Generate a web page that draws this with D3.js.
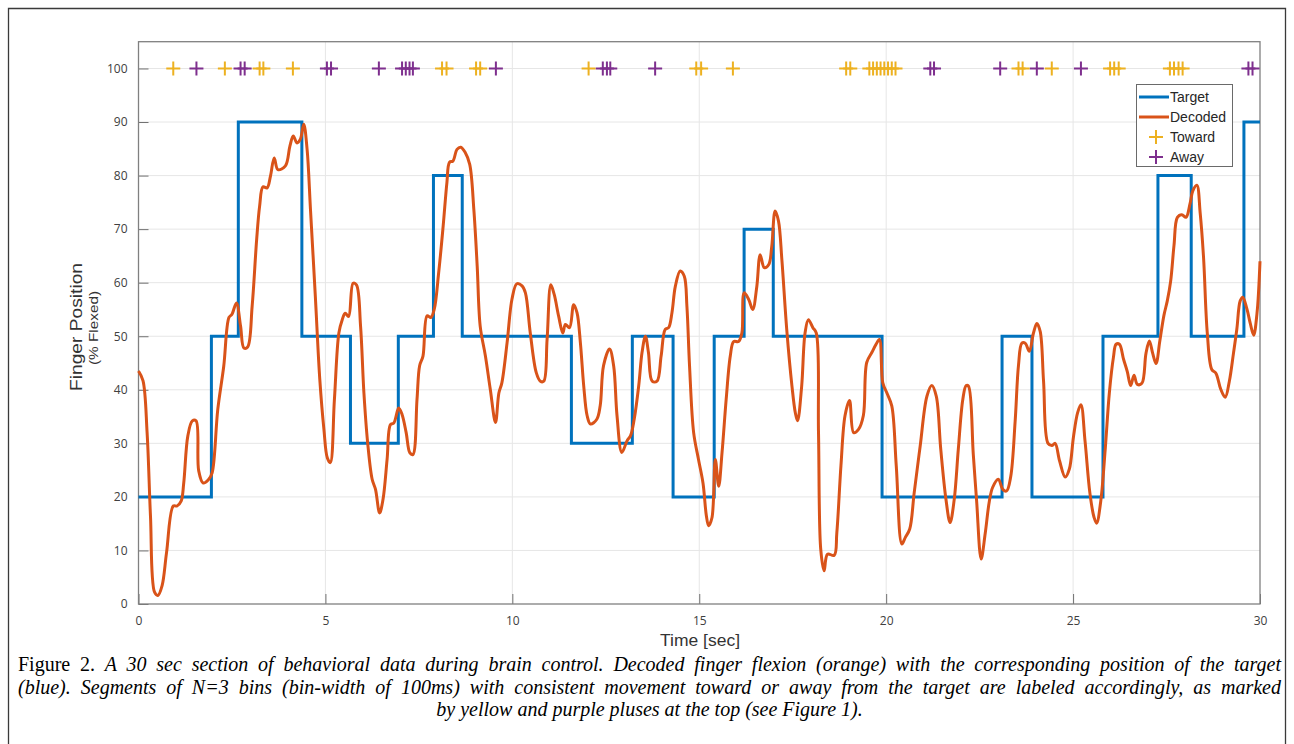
<!DOCTYPE html>
<html>
<head>
<meta charset="utf-8">
<script src="https://cdn.jsdelivr.net/npm/d3@7"></script>
<style>
  html, body { margin: 0; padding: 0; background: #ffffff; }
  svg { display: block; }
</style>
</head>
<body>
<svg id="chart" width="1294" height="744"></svg>
<script>
// ---------------- DATA ----------------
const xTicks = [0, 5, 10, 15, 20, 25, 30];
const yTicks = [0, 10, 20, 30, 40, 50, 60, 70, 80, 90, 100];

// Target: step changes (time in sec, value in % flexed)
const targetTimes  = [0, 1.95, 2.67, 4.37, 5.67, 6.95, 7.89, 8.66, 11.58, 13.21, 14.30, 15.40, 16.20, 16.98, 19.89, 23.10, 23.90, 25.80, 27.27, 28.16, 29.57, 30];
const targetValues = [20, 50,   90,   50,   30,   50,   80,   50,   30,    50,    20,    50,    70,    50,    20,    50,    20,    50,    80,    50,    90,    90];

// Decoded finger flexion
const decodedTimes = [
  0.00, 0.12, 0.23, 0.32, 0.43, 0.52, 0.63, 0.75, 0.93, 1.03, 1.14, 1.21, 1.32, 1.44, 1.54, 1.61, 1.73, 1.88, 1.97,
  2.12, 2.28, 2.42, 2.50, 2.62, 2.73, 2.82, 2.92, 3.04, 3.16, 3.24, 3.33, 3.44, 3.53, 3.63, 3.73, 3.93, 4.05, 4.14,
  4.24, 4.33, 4.42, 4.51, 4.60, 4.73, 4.85, 4.96, 5.05, 5.13, 5.24, 5.36, 5.45, 5.53, 5.62, 5.74, 5.83, 5.94, 6.03,
  6.13, 6.25, 6.34, 6.45, 6.54, 6.65, 6.74, 6.83, 6.96, 7.05, 7.16, 7.26, 7.34, 7.45, 7.52, 7.61, 7.72, 7.82, 7.91,
  8.03, 8.15, 8.25, 8.32, 8.41, 8.52, 8.62, 8.74, 8.86, 8.97, 9.06, 9.14, 9.28, 9.41, 9.55, 9.64, 9.72, 9.86, 9.99,
  10.12, 10.26, 10.35, 10.48, 10.64, 10.75, 10.84, 10.93, 11.03, 11.12, 11.24, 11.35, 11.42, 11.53, 11.64, 11.73,
  11.82, 11.91, 12.00, 12.09, 12.26, 12.35, 12.44, 12.60, 12.71, 12.80, 12.93, 13.07, 13.16, 13.26, 13.38, 13.47,
  13.56, 13.64, 13.74, 13.87, 13.98, 14.09, 14.18, 14.27, 14.36, 14.49, 14.60, 14.67, 14.74, 14.85, 14.98, 15.10,
  15.19, 15.25, 15.34, 15.43, 15.52, 15.61, 15.72, 15.83, 15.92, 16.05, 16.14, 16.20, 16.32, 16.43, 16.54, 16.63,
  16.74, 16.86, 16.94, 17.03, 17.12, 17.21, 17.34, 17.48, 17.57, 17.63, 17.74, 17.83, 17.92, 18.04, 18.13, 18.19,
  18.25, 18.34, 18.43, 18.61, 18.68, 18.79, 18.90, 19.02, 19.13, 19.26, 19.39, 19.48, 19.62, 19.73, 19.82, 19.91,
  20.02, 20.15, 20.27, 20.42, 20.51, 20.63, 20.75, 20.91, 21.09, 21.22, 21.34, 21.46, 21.60, 21.71, 21.82, 21.93,
  22.05, 22.14, 22.20, 22.33, 22.42, 22.54, 22.65, 22.76, 22.85, 23.00, 23.12, 23.22, 23.33, 23.45, 23.54, 23.63,
  23.72, 23.83, 23.94, 24.03, 24.12, 24.21, 24.33, 24.44, 24.52, 24.64, 24.79, 24.90, 25.01, 25.12, 25.21, 25.32,
  25.45, 25.56, 25.63, 25.74, 25.86, 25.97, 26.08, 26.15, 26.24, 26.35, 26.45, 26.54, 26.63, 26.72, 26.84, 26.95,
  27.04, 27.13, 27.22, 27.32, 27.43, 27.52, 27.61, 27.70, 27.79, 27.91, 28.02, 28.13, 28.20, 28.31, 28.40, 28.49,
  28.59, 28.71, 28.82, 28.95, 29.07, 29.18, 29.29, 29.38, 29.47, 29.54, 29.65, 29.74, 29.83, 29.92, 30.00
];
const decodedValues = [
  43.5, 41.7, 32.0, 16.5, 2.2, 1.6, 3.4, 9.6, 18.3, 18.3, 19.2, 22.6, 31.4, 34.2, 34.2, 24.9, 22.6, 23.3, 24.5,
  36.3, 44.4, 53.5, 54.1, 56.2, 51.9, 47.8, 48.0, 55.6, 68.0, 74.3, 77.9, 77.7, 79.9, 83.3, 81.1, 81.8, 85.5, 87.4,
  86.1, 86.8, 89.6, 84.9, 73.7, 57.5, 41.9, 32.6, 27.3, 26.4, 38.1, 50.6, 53.1, 54.3, 53.7, 59.9, 59.6, 51.9, 39.4,
  30.1, 23.3, 21.4, 17.0, 19.5, 27.0, 33.5, 33.8, 36.6, 35.4, 32.0, 28.2, 27.9, 38.2, 44.5, 46.3, 53.8, 53.5, 55.0,
  61.9, 70.6, 78.7, 82.5, 82.7, 84.9, 85.3, 84.3, 82.1, 73.7, 63.1, 51.9, 46.3, 40.1, 33.9, 39.4, 41.3, 48.8, 56.9,
  59.8, 59.4, 58.1, 50.6, 43.2, 41.6, 41.6, 49.4, 59.6, 57.8, 53.7, 50.6, 52.2, 51.6, 55.9, 54.4,
  48.8, 40.7, 35.2, 33.6, 34.5, 37.0, 44.5, 47.6, 44.5, 35.2, 28.3, 30.5, 31.4, 34.5, 40.7, 47.0,
  50.0, 47.0, 41.6, 41.6, 46.3, 51.3, 51.6, 54.4, 59.3, 62.2, 61.2, 55.6, 44.5, 32.0, 27.0, 22.6,
  16.5, 14.6, 16.1, 27.0, 22.0, 28.3, 38.2, 46.3, 49.0, 49.0, 50.6, 58.1, 56.9, 55.0, 59.3, 65.2,
  62.8, 63.4, 66.8, 73.4, 71.5, 64.3, 51.3, 40.7, 35.7, 34.2, 40.7, 50.6, 53.1, 51.6, 50.6, 32.0,
  10.2, 6.2, 9.3, 9.1, 13.3, 25.8, 35.2, 38.0, 32.0, 32.6, 35.2, 45.1, 47.0, 48.5, 49.4, 41.3,
  39.4, 37.0, 25.8, 11.2, 12.4, 14.0, 20.8, 29.5, 38.8, 40.8, 38.8, 28.9, 19.5, 15.2, 19.5, 28.9,
  38.2, 40.8, 40.7, 28.0, 19.2, 8.4, 13.2, 19.2, 21.8, 23.3, 21.4, 21.1, 23.7, 34.1, 44.6, 48.7,
  48.7, 47.2, 50.6, 52.4, 50.9, 41.6, 30.0, 29.6, 30.0, 26.7, 23.7, 25.2, 31.2, 35.7, 37.2, 30.4,
  20.7, 16.2, 15.1, 19.2, 28.9, 39.4, 46.1, 48.5, 48.5, 45.7, 43.4, 40.8, 42.7, 41.0, 41.2, 46.8,
  49.1, 46.8, 44.9, 49.1, 53.9, 56.6, 60.3, 67.0, 72.2, 72.7, 72.2, 74.8, 77.1, 78.2, 73.0, 64.7,
  50.6, 43.8, 43.1, 40.1, 38.6, 41.6, 46.8, 51.3, 56.6, 57.3, 55.1, 52.4, 50.2, 54.3, 64.0
];

// Segment labels (times in sec), plotted at 100
const towardTimes = [0.93, 2.31, 3.24, 3.34, 4.13, 8.12, 8.24, 9.03, 9.14, 12.04, 14.92, 15.05, 15.90, 18.93, 19.04,
  19.55, 19.65, 19.75, 19.85, 19.95, 20.05, 20.15, 20.25, 23.54, 23.65, 24.43, 25.99, 26.10, 26.22, 27.59, 27.70, 27.82, 27.93];
const awayTimes = [1.55, 2.73, 2.84, 5.04, 5.15, 6.43, 7.05, 7.15, 7.25, 7.34, 9.56, 12.42, 12.53, 12.62, 13.82,
  21.18, 21.28, 23.05, 24.03, 25.21, 29.69, 29.80];
const markerLevel = 100;

const legendLabels = ["Target", "Decoded", "Toward", "Away"];
const captionLines = [
  "A 30 sec section of behavioral data during brain control. Decoded finger flexion (orange) with the corresponding position of the target",
  "(blue). Segments of N=3 bins (bin-width of 100ms) with consistent movement toward or away from the target are labeled accordingly, as marked",
  "by yellow and purple pluses at the top (see Figure 1)."
];

// ---------------- DRAW ----------------
const svg = d3.select("#chart");
const C = { blue: "#0072BD", orange: "#D95319", yellow: "#EDB120", purple: "#7E2F8E" };
const sans = "'Liberation Sans', Arial, sans-serif";

// Outer frame
svg.append("path")
  .attr("d", "M8.5,744 V8.5 H1285.5 V744")
  .attr("fill", "none").attr("stroke", "#3a3a3a").attr("stroke-width", 1.3);

const L = 138.5, R = 1260, T = 41.7, B = 604;
const x = d3.scaleLinear().domain([0, 30]).range([L, R]);
const y = d3.scaleLinear().domain([0, 105]).range([B, T]);

const g = svg.append("g");

// Grid
g.append("g").selectAll("line").data(xTicks.filter(d => d > 0 && d < 30)).join("line")
  .attr("x1", d => x(d)).attr("x2", d => x(d)).attr("y1", T).attr("y2", B)
  .attr("stroke", "#e6e6e6").attr("stroke-width", 1);
g.append("g").selectAll("line").data(yTicks.filter(d => d > 0)).join("line")
  .attr("x1", L).attr("x2", R).attr("y1", d => y(d)).attr("y2", d => y(d))
  .attr("stroke", "#e6e6e6").attr("stroke-width", 1);

// Axes (inward ticks)
const axisColor = "#808080";
const xAxis = g.append("g").attr("transform", `translate(0,${B})`)
  .call(d3.axisBottom(x).tickValues(xTicks).tickSize(-10).tickPadding(12).tickFormat(d3.format("d")));
const yAxis = g.append("g").attr("transform", `translate(${L},0)`)
  .call(d3.axisLeft(y).tickValues(yTicks).tickSize(-10).tickPadding(11).tickFormat(d3.format("d")));
[xAxis, yAxis].forEach(a => {
  a.select(".domain").remove();
  a.selectAll(".tick line").attr("stroke", "#707070").attr("stroke-width", 1);
  a.selectAll(".tick text").attr("fill", "#404040")
    .style("font-family", "'Open Sans', 'Liberation Sans', sans-serif").style("font-size", "12px");
});
// Box
g.append("rect").attr("x", L).attr("y", T).attr("width", R - L).attr("height", B - T)
  .attr("fill", "none").attr("stroke", axisColor).attr("stroke-width", 1.3);

// Target step line
const stepLine = d3.line().x(d => x(d[0])).y(d => y(d[1])).curve(d3.curveStepAfter);
g.append("path").datum(targetTimes.map((t, i) => [t, targetValues[i]]))
  .attr("d", stepLine).attr("fill", "none").attr("stroke", C.blue).attr("stroke-width", 3);

// Decoded line
const smooth = d3.line().x(d => x(d[0])).y(d => y(d[1])).curve(d3.curveCatmullRom.alpha(0.5));
g.append("path").datum(decodedTimes.map((t, i) => [t, decodedValues[i]]))
  .attr("d", smooth).attr("fill", "none").attr("stroke", C.orange).attr("stroke-width", 3)
  .attr("stroke-linejoin", "round");

// Markers
const plus = "M-7,0H7M0,-7V7";
g.append("g").selectAll("path").data(towardTimes).join("path")
  .attr("d", plus).attr("transform", d => `translate(${x(d)},${y(markerLevel)})`)
  .attr("stroke", C.yellow).attr("stroke-width", 2).attr("fill", "none");
g.append("g").selectAll("path").data(awayTimes).join("path")
  .attr("d", plus).attr("transform", d => `translate(${x(d)},${y(markerLevel)})`)
  .attr("stroke", C.purple).attr("stroke-width", 2).attr("fill", "none");

// Legend
const lg = svg.append("g");
lg.append("rect").attr("x", 1136.5).attr("y", 84.5).attr("width", 96).attr("height", 82)
  .attr("fill", "#fff").attr("stroke", "#6a6a6a").attr("stroke-width", 1);
const legendColors = [C.blue, C.orange, C.yellow, C.purple];
legendLabels.forEach((lab, i) => {
  const yy = 97 + i * 20;
  if (i < 2) {
    lg.append("line").attr("x1", 1139).attr("x2", 1169).attr("y1", yy).attr("y2", yy)
      .attr("stroke", legendColors[i]).attr("stroke-width", 3);
  } else {
    lg.append("path").attr("d", plus).attr("transform", `translate(1156,${yy})`)
      .attr("stroke", legendColors[i]).attr("stroke-width", 2).attr("fill", "none");
  }
  lg.append("text").attr("x", 1170).attr("y", yy + 5).text(lab)
    .attr("fill", "#262626").style("font-family", sans).style("font-size", "14px");
});

// Axis titles
svg.append("text").attr("x", 700).attr("y", 646).attr("text-anchor", "middle").text("Time [sec]")
  .attr("fill", "#333").style("font-family", sans).style("font-size", "16px")
  .attr("textLength", 80).attr("lengthAdjust", "spacingAndGlyphs");
svg.append("text").attr("transform", "translate(82,327) rotate(-90)").attr("text-anchor", "middle")
  .text("Finger Position").attr("fill", "#333")
  .style("font-family", sans).style("font-size", "17px")
  .attr("textLength", 128).attr("lengthAdjust", "spacingAndGlyphs");
svg.append("text").attr("transform", "translate(98,328) rotate(-90)").attr("text-anchor", "middle")
  .text("(% Flexed)").attr("fill", "#333")
  .style("font-family", sans).style("font-size", "13.5px")
  .attr("textLength", 74).attr("lengthAdjust", "spacingAndGlyphs");

// Caption
const capFont = "'Liberation Serif', 'Times New Roman', serif";
const capSize = 20;
const capX0 = 18, capX1 = 1281;
const baselines = [671, 694, 716];
captionLines.forEach((line, i) => {
  const t = svg.append("text").attr("y", baselines[i]).attr("fill", "#000")
    .style("font-family", capFont).style("font-size", capSize + "px");
  if (i === 0) {
    t.append("tspan").text("Figure 2. ").style("font-style", "normal");
  }
  t.append("tspan").text(line).style("font-style", "italic");
  if (i < 2) {
    t.attr("x", capX0);
    const w = t.node().getComputedTextLength();
    const words = (i === 0 ? ("Figure 2. " + line) : line).split(" ").length - 1;
    const ws = (capX1 - capX0 - w) / words;
    t.style("word-spacing", ws + "px");
  } else {
    t.attr("x", (capX0 + capX1) / 2).attr("text-anchor", "middle");
  }
});
</script>
</body>
</html>
